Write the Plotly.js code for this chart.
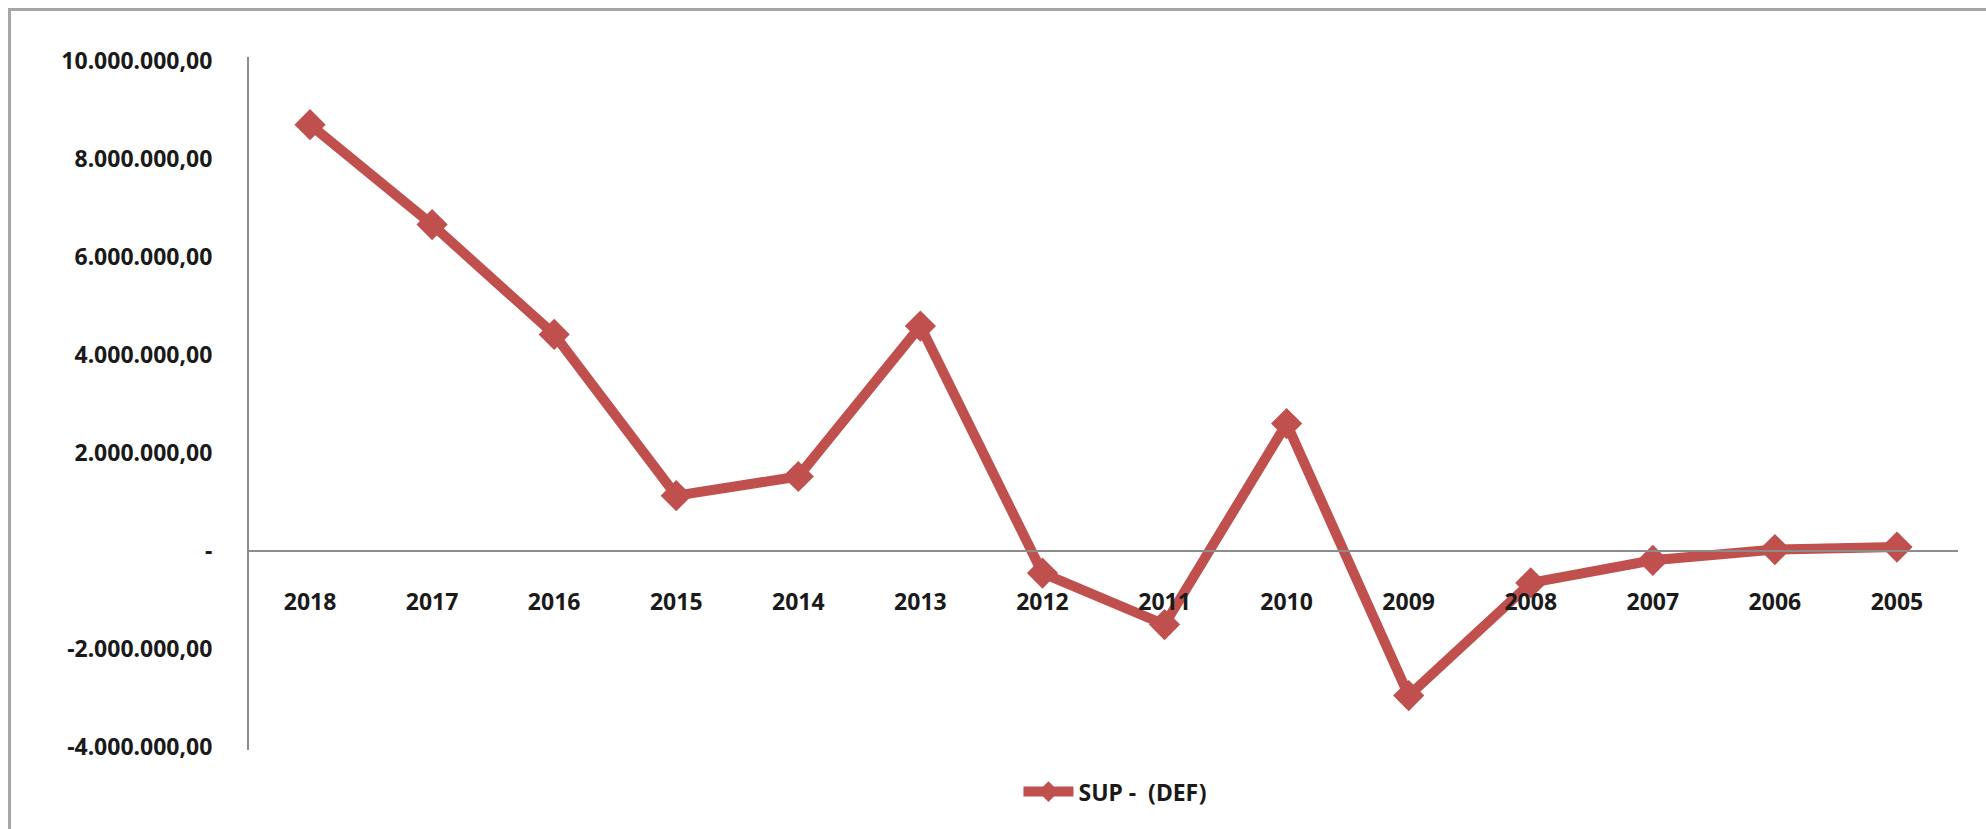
<!DOCTYPE html>
<html>
<head>
<meta charset="utf-8">
<script src="https://cdn.plot.ly/plotly-3.0.1.min.js"></script>
<style>
  html, body { margin: 0; padding: 0; background: #ffffff; }
  #wrap { position: relative; width: 1986px; height: 829px; }
  #chart { position: absolute; left: 0; top: 0; width: 1986px; height: 829px; }
  #frame { position: absolute; left: 8px; top: 8px; width: 1990px; height: 840px;
           border-top: 3px solid #a6a6a6; border-left: 3px solid #a6a6a6; pointer-events: none; }
</style>
</head>
<body>
<div id="wrap">
  <div id="chart"></div>
  <div id="frame"></div>
</div>
<script>
// ---- data ----
var years = ["2018", "2017", "2016", "2015", "2014", "2013", "2012",
             "2011", "2010", "2009", "2008", "2007", "2006", "2005"];
var supDef = [8700000, 6660000, 4420000, 1130000, 1520000, 4590000, -450000,
              -1500000, 2600000, -2950000, -650000, -190000, 30000, 80000];
var seriesName = "SUP -  (DEF)";
var yTickVals = [-4000000, -2000000, 0, 2000000, 4000000, 6000000, 8000000, 10000000];
var yTickLabels = ["-4.000.000,00", "-2.000.000,00", "-", "2.000.000,00", "4.000.000,00",
                   "6.000.000,00", "8.000.000,00", "10.000.000,00"];

var yMin = -4060000, yMax = 10080000;
var lineColor = "#C0504D";
var axisColor = "#8c8c8c";
var fontFam = "'Noto Sans', 'Open Sans', sans-serif";

var trace = {
  x: years,
  y: supDef,
  type: "scatter",
  mode: "lines+markers",
  name: seriesName,
  line: { color: lineColor, width: 10 },
  marker: { symbol: "diamond", size: 24, color: lineColor }
};

var layout = {
  width: 1986,
  height: 829,
  paper_bgcolor: "#ffffff",
  plot_bgcolor: "#ffffff",
  margin: { l: 249, r: 28, t: 57, b: 79 },
  showlegend: true,
  font: { family: fontFam, size: 23, color: "#1a1a1a", weight: "bold" },
  xaxis: {
    type: "category",
    range: [-0.5, 13.5],
    anchor: "free",
    position: (0 - yMin) / (yMax - yMin),
    showline: true,
    linecolor: axisColor,
    linewidth: 2,
    showgrid: false,
    zeroline: false,
    ticks: "",
    ticklabelstandoff: 30,
    tickfont: { family: fontFam, size: 23, color: "#1a1a1a", weight: "bold" }
  },
  yaxis: {
    range: [yMin, yMax],
    tickmode: "array",
    tickvals: yTickVals,
    ticktext: yTickLabels,
    showline: true,
    linecolor: axisColor,
    linewidth: 2,
    showgrid: false,
    zeroline: false,
    ticks: "",
    ticklabelstandoff: 30,
    tickfont: { family: fontFam, size: 23, color: "#1a1a1a", weight: "bold" }
  },
  legend: {
    orientation: "h",
    x: 0.507,
    xanchor: "center",
    y: -0.06,
    yanchor: "middle",
    itemwidth: 50,
    font: { family: fontFam, size: 23, color: "#1a1a1a", weight: "bold" },
    bgcolor: "rgba(0,0,0,0)"
  }
};

Plotly.newPlot("chart", [trace], layout, { displayModeBar: false, staticPlot: true });
</script>
</body>
</html>
